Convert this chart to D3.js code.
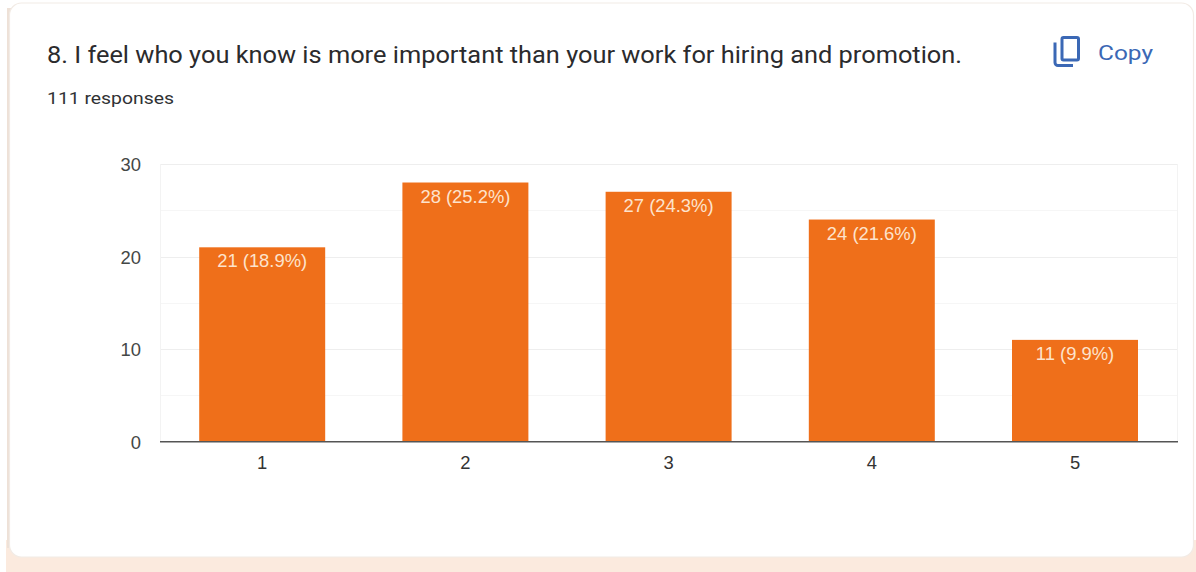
<!DOCTYPE html>
<html>
<head>
<meta charset="utf-8">
<script src="https://cdn.jsdelivr.net/npm/d3@7"></script>
<style>
html,body{margin:0;padding:0;background:#ffffff;}
svg{display:block;}
text{font-family:Roboto,Arial,sans-serif;}
</style>
</head>
<body>
<svg id="chart" width="1196" height="572"></svg>
<script>
// Survey answers on a 1-5 scale
const categories = ["1","2","3","4","5"];
const counts = [21,28,27,24,11];
const shares = ["18.9%","25.2%","24.3%","21.6%","9.9%"];
const majorTicks = [0,10,20,30];
const minorTicks = [5,15,25];
const questionTitle = "8. I feel who you know is more important than your work for hiring and promotion.";
const responseNote = "111 responses";

const chartFont = "'Liberation Sans',Arial,sans-serif";
const svg = d3.select("#chart");

// Page tint showing around the card
svg.append("rect").attr("x",6).attr("y",540).attr("width",1190).attr("height",32).attr("fill","#fbeade");
svg.append("rect").attr("x",7).attr("y",8).attr("width",8).attr("height",540).attr("fill","#eee1d7");

// Card behind the question
svg.append("rect").attr("x",9.5).attr("y",3).attr("width",1184).attr("height",554)
  .attr("rx",12).attr("fill","#ffffff").attr("stroke","#f2ebe5").attr("stroke-width",1.2);

svg.append("text").attr("x",47).attr("y",63).attr("font-size",23.4).attr("fill","#2b2b2d")
  .attr("textLength",915).attr("lengthAdjust","spacingAndGlyphs").text(questionTitle);
svg.append("text").attr("x",47).attr("y",104).attr("font-size",16.5).attr("fill","#303134")
  .attr("textLength",127).attr("lengthAdjust","spacingAndGlyphs").text(responseNote);

// Copy button
const copy = svg.append("g").attr("fill","none").attr("stroke","#3b68b5").attr("stroke-width",3);
copy.append("rect").attr("x",1062).attr("y",37.5).attr("width",16.5).attr("height",22.5).attr("rx",1.5);
copy.append("path").attr("d","M1055 42.5V62.5a3 3 0 0 0 3 3H1073");
svg.append("text").attr("x",1098).attr("y",60).attr("font-size",21).attr("font-weight",400)
  .attr("fill","#3b68b5").attr("textLength",55).attr("lengthAdjust","spacingAndGlyphs").text("Copy");

// Scales
const x = d3.scaleBand().domain(categories).range([160.6,1176.6]).paddingInner(0.38).paddingOuter(0.19);
const y = d3.scaleLinear().domain([0,30]).range([441.7,164]);

// Gridlines
const grid = svg.append("g");
grid.selectAll("line.minor").data(minorTicks).join("line").attr("class","minor")
  .attr("x1",160).attr("x2",1178).attr("y1",d=>Math.round(y(d))+.5).attr("y2",d=>Math.round(y(d))+.5)
  .attr("stroke","#f6f6f6");
grid.selectAll("line.major").data(majorTicks.filter(d=>d>0)).join("line").attr("class","major")
  .attr("x1",160).attr("x2",1178).attr("y1",d=>Math.round(y(d))+.5).attr("y2",d=>Math.round(y(d))+.5)
  .attr("stroke","#eeeeee");
grid.append("line").attr("x1",160.5).attr("x2",160.5).attr("y1",164).attr("y2",441).attr("stroke","#f3f3f3");
grid.append("line").attr("x1",1177.5).attr("x2",1177.5).attr("y1",164).attr("y2",441).attr("stroke","#f3f3f3");

// Bars
svg.selectAll("rect.bar").data(categories).join("rect").attr("class","bar")
  .attr("x",d=>x(d)).attr("width",x.bandwidth())
  .attr("y",(d,i)=>y(counts[i])).attr("height",(d,i)=>y(0)-y(counts[i]))
  .attr("fill","#ef6f1a");

// Value labels inside the bars
svg.selectAll("text.value").data(categories).join("text").attr("class","value")
  .attr("x",d=>x(d)+x.bandwidth()/2).attr("y",(d,i)=>y(counts[i])+20)
  .attr("text-anchor","middle").attr("font-size",18.4).attr("fill","#fde3cc")
  .style("font-family",chartFont)
  .text((d,i)=>`${counts[i]} (${shares[i]})`);

// Axes
const yAxis = svg.append("g").attr("transform","translate(160,0)")
  .call(d3.axisLeft(y).tickValues(majorTicks).tickSize(0).tickPadding(19));
yAxis.select(".domain").remove();
yAxis.selectAll("text").attr("font-size",18.4).attr("fill","#444746")
  .style("font-family",chartFont).attr("dy","0.36em");

const xAxis = svg.append("g").attr("transform","translate(0,441.7)")
  .call(d3.axisBottom(x).tickSize(0).tickPadding(14));
xAxis.select(".domain").remove();
xAxis.selectAll("text").attr("font-size",18.4).attr("fill","#333333").style("font-family",chartFont);

// Baseline spanning the full plot width
svg.append("line").attr("x1",160).attr("x2",1178).attr("y1",441.7).attr("y2",441.7)
  .attr("stroke","#555555").attr("stroke-width",1.6);
</script>
</body>
</html>
